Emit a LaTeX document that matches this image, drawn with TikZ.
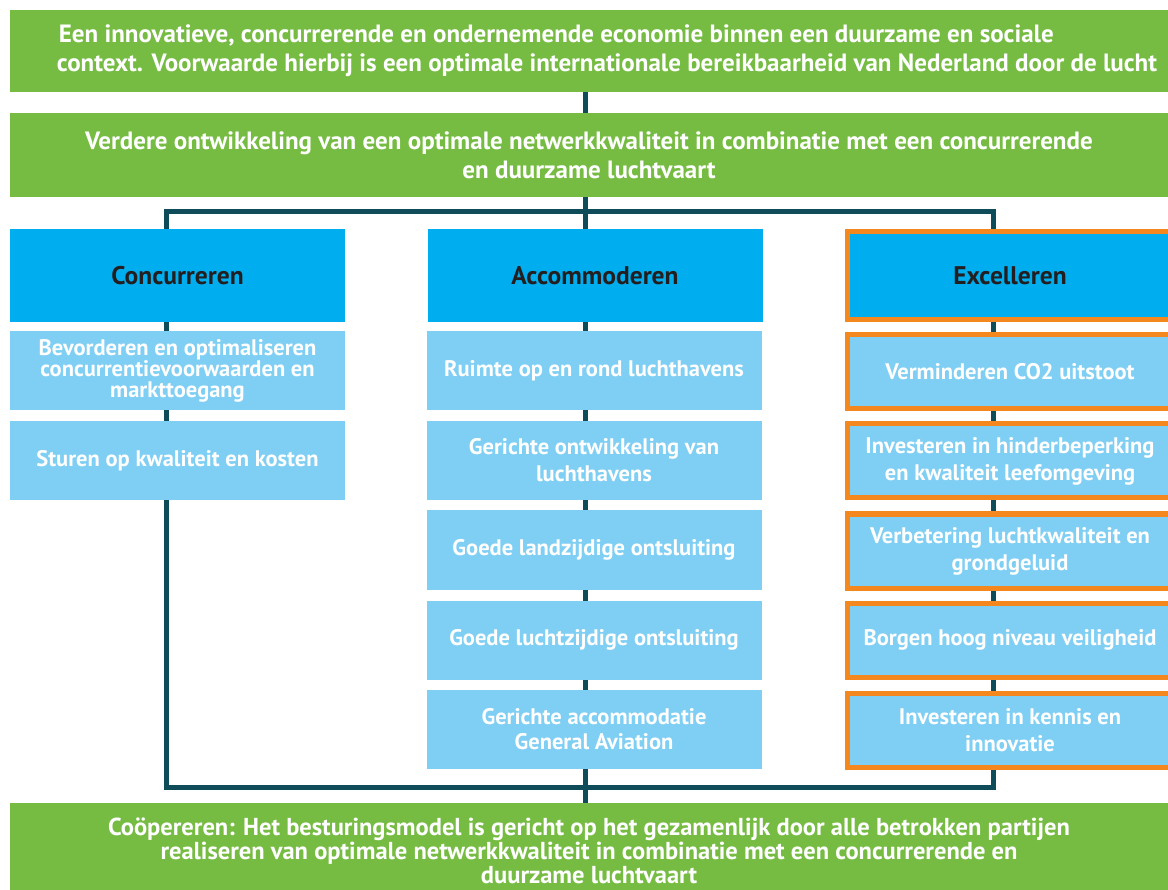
\documentclass[tikz,border=0pt]{standalone}
\usepackage{fontspec}
\setmainfont{PT Sans}
\usepackage{xcolor}
\usetikzlibrary{backgrounds}

\definecolor{lgreen}{HTML}{76BC43}
\definecolor{hblue}{HTML}{00AEEF}
\definecolor{sblue}{HTML}{7FCEF3}
\definecolor{tline}{HTML}{0E4C5A}
\definecolor{orng}{HTML}{F5871F}
\definecolor{htext}{HTML}{231F20}

\tikzset{
  greenbox/.style={fill=lgreen,text=white,font=\bfseries\fontsize{25}{29}\selectfont,
    minimum width=1158pt,align=center,inner sep=0pt},
  headbox/.style={fill=hblue,text=htext,font=\bfseries\fontsize{25.5}{27}\selectfont,
    minimum width=335pt,minimum height=93pt,align=center,inner sep=0pt},
  subbox/.style={fill=sblue,text=white,font=\bfseries\fontsize{22.5}{27}\selectfont,
    minimum width=335pt,minimum height=79pt,align=center,inner sep=0pt},
  orangebox/.style={draw=orng,line width=5pt,minimum width=325pt,minimum height=74pt},
  link/.style={draw=tline,line width=5pt}
}

\begin{document}
\begin{tikzpicture}[x=1pt,y=-1pt]
				\clip (0,0) rectangle (1168,890);

				% goal boxes
				\node[greenbox,minimum height=82pt,align=left] (top) at (589,51)
				  {\hspace*{38pt}Een innovatieve, concurrerende en ondernemende economie binnen een duurzame en sociale\\
				   \hspace*{36pt}context. Voorwaarde hierbij is een optimale internationale bereikbaarheid van Nederland door de lucht};
				\node[greenbox,minimum height=84pt] (goal) at (589,155)
				  {Verdere ontwikkeling van een optimale netwerkkwaliteit in combinatie met een concurrerende\\
				   en duurzame luchtvaart};

				% pillars
				\node[headbox] (conc) at (177.5,275.5) {Concurreren};
				\node[headbox] (acco) at (595,275.5) {Accommoderen};
				\node[headbox,orangebox,minimum height=88pt] (exce) at (1010,275.5) {Excelleren};

				\node[subbox,font=\bfseries\fontsize{22.5}{21}\selectfont] (c1) at (177.5,371)
				  {Bevorderen en optimaliseren\\concurrentievoorwaarden en\\markttoegang};
				\node[subbox] (c2) at (177.5,460.7) {Sturen op kwaliteit en kosten};

				\node[subbox] (a1) at (594,370.5) {Ruimte op en rond luchthavens};
				\node[subbox] (a2) at (594,460.5) {Gerichte ontwikkeling van\\luchthavens};
				\node[subbox] (a3) at (594,550) {Goede landzijdige ontsluiting};
				\node[subbox] (a4) at (594,640) {Goede luchtzijdige ontsluiting};
				\node[subbox,font=\bfseries\fontsize{22.5}{25}\selectfont] (a5) at (594,729.5)
				  {Gerichte accommodatie\\General Aviation};

				\node[subbox,orangebox] (e1) at (1010,372) {Verminderen CO2 uitstoot};
				\node[subbox,orangebox] (e2) at (1010,461) {Investeren in hinderbeperking\\en kwaliteit leefomgeving};
				\node[subbox,orangebox] (e3) at (1010,551) {Verbetering luchtkwaliteit en\\grondgeluid};
				\node[subbox,orangebox] (e4) at (1010,640) {Borgen hoog niveau veiligheid};
				\node[subbox,orangebox] (e5) at (1010,730) {Investeren in kennis en\\innovatie};

				\node[greenbox,minimum height=95pt,font=\bfseries\fontsize{24.5}{24}\selectfont] (coop) at (589,850.5)
				  {Coöpereren: Het besturingsmodel is gericht op het gezamenlijk door alle betrokken partijen\\
				   realiseren van optimale netwerkkwaliteit in combinatie met een concurrerende en\\
				   duurzame luchtvaart};

				% connectors
				\coordinate (splitl) at (166,212);
				\coordinate (splitm) at (585,212);
				\coordinate (splitr) at (993,212);
				\coordinate (joinl) at (166,787);
				\coordinate (joinr) at (993,787);

				\begin{scope}[on background layer]
				\draw[link] (top.south -| splitm) -- (coop.north -| splitm);
				\draw[link] (splitl) -- (splitr) -- (joinr) -- (joinl) -- cycle;
				\end{scope}
		\end{tikzpicture}
\end{document}
